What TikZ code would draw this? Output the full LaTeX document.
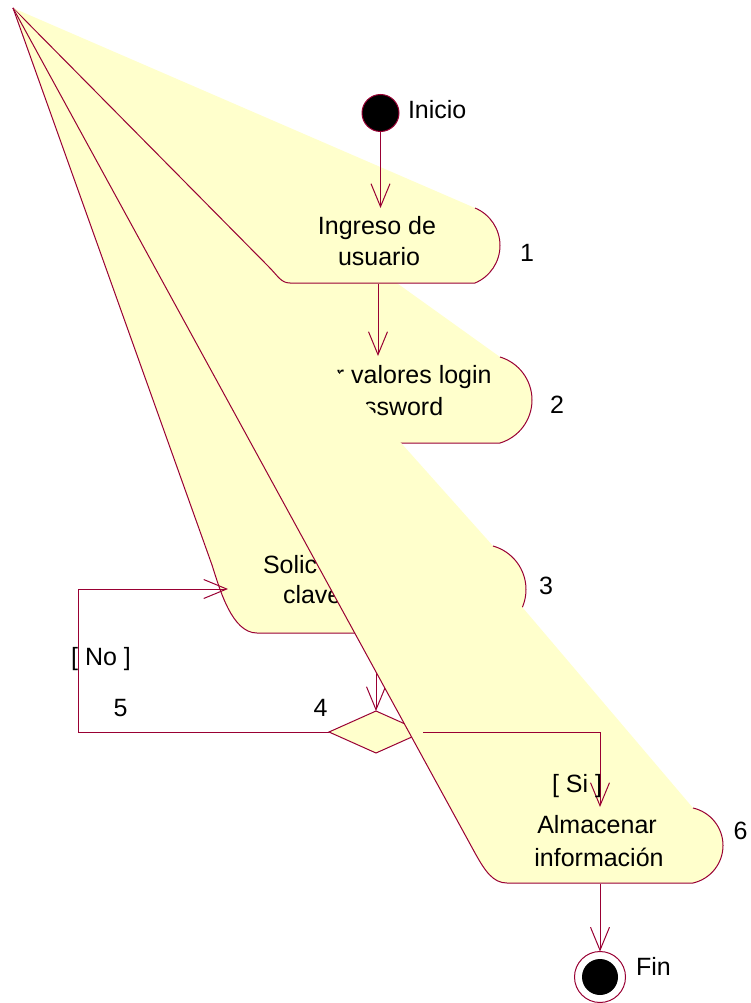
\documentclass[tikz,border=0pt]{standalone}
\usepackage{fontspec}
\setmainfont{Liberation Sans}
\usetikzlibrary{arrows.meta,shapes.geometric}
\definecolor{rline}{RGB}{153,0,51}
\definecolor{rfill}{RGB}{255,255,204}
\begin{document}
\begin{tikzpicture}[x=1pt,y=-1pt,
  every node/.style={font=\fontsize{25}{30}\selectfont, inner sep=0pt, outer sep=0pt},
  txt/.style={anchor=base},
  txtw/.style={anchor=base west},
  edge/.style={draw=rline, line width=1pt, line join=round},
  flow/.style={draw=rline, line width=1pt, -{Straight Barb[length=23pt,width=19pt]}},
]
\useasboundingbox (0,0) rectangle (751,1003);
\coordinate (apex) at (13,8);

% ---------- Box 2 : Validar valores login y password ----------
\fill[rfill] (apex) -- (500,357) .. controls (519,362.7) and (532,380.2) .. (532,400)
  .. controls (532,419.8) and (519,437.3) .. (500,443) -- (255,443)
  .. controls (244,443) and (236,436) .. (228,418) -- cycle;
\draw[edge] (500,357) .. controls (519,362.7) and (532,380.2) .. (532,400)
  .. controls (532,419.8) and (519,437.3) .. (500,443) -- (255,443)
  .. controls (244,443) and (236,436) .. (228,418) -- (apex);
\node[txt] (b2l1) at (380,383) {Validar valores login};
\node[txt] (b2l2) at (380,415) {y password};

% ---------- Box 1 : Ingreso de usuario ----------
\fill[rfill] (apex) -- (475,208) .. controls (490.1,214.3) and (500,229.1) .. (500,245.5)
  .. controls (500,261.9) and (490.1,276.7) .. (475,283) -- (290,283)
  .. controls (281,283) and (278,276) .. (268,266) -- cycle;
\draw[edge] (475,208) .. controls (490.1,214.3) and (500,229.1) .. (500,245.5)
  .. controls (500,261.9) and (490.1,276.7) .. (475,283) -- (290,283)
  .. controls (281,283) and (278,276) .. (268,266) -- (apex);
\node[txt] (b1l1) at (377,234) {Ingreso de};
\node[txt] (b1l2) at (379,265) {usuario};

% ---------- Box 3 : Solic... clave ----------
\fill[rfill] (apex) -- (493,546) .. controls (512.5,551.5) and (526,569.2) .. (526,589.5)
  .. controls (526,609.8) and (512.5,627.5) .. (493,633) -- (257,633)
  .. controls (232,633) and (220,590) .. (212,565) -- cycle;
\draw[edge] (493,546) .. controls (512.5,551.5) and (526,569.2) .. (526,589.5)
  .. controls (526,609.8) and (512.5,627.5) .. (493,633) -- (257,633)
  .. controls (232,633) and (220,590) .. (212,565) -- (apex);
\node[txtw] (b3l1) at (263,573) {Solic};
\node[txtw] (b3l2) at (283,603) {clave};

% ---------- start and transitions drawn below box 6 ----------
\node[circle, fill=black, draw=rline, line width=1pt, minimum size=37pt] (start) at (380.5,113) {};
\coordinate (b1in) at (380.5,208);
\coordinate (b1out) at (378,284);
\coordinate (b2in) at (378,356);
\coordinate (b2out) at (378,444);
\coordinate (b3in) at (378,545);
\coordinate (b3out) at (376,634);
\coordinate (b3left) at (228,589);
\coordinate (loopA) at (78,732);
\coordinate (loopB) at (78,589);

\draw[flow] (start.south) -- (b1in);
\draw[flow] (b1out) -- (b2in);
\draw[flow] (b2out) -- (b3in);

% decision
\node[diamond, draw=rline, fill=rfill, line width=1pt, minimum width=94pt, minimum height=42pt, inner sep=0pt] (dec) at (376,732) {};
\draw[flow] (b3out) -- (dec.north);
\draw[flow] (dec.west) -- (loopA) -- (loopB) -- (b3left);

% ---------- Box 6 : Almacenar informacion ----------
\fill[rfill] (apex) -- (693,808) .. controls (710.5,812) and (723,827.5) .. (723,845.5)
  .. controls (723,863.5) and (710.5,879) .. (693,883) -- (507,883)
  .. controls (493,883) and (485,871) .. (475,853) -- cycle;
\draw[edge] (693,808) .. controls (710.5,812) and (723,827.5) .. (723,845.5)
  .. controls (723,863.5) and (710.5,879) .. (693,883) -- (507,883)
  .. controls (493,883) and (485,871) .. (475,853) -- (apex);
\node[txt] (b6l1) at (597,833) {Almacenar};
\node[txt] (b6l2) at (599,866) {información};

% ---------- transitions on top of box 6 ----------
\coordinate (siA) at (600,732);
\coordinate (b6in) at (600,807);
\coordinate (b6out) at (600,884);
\draw[flow] (dec.east) -- (siA) -- (b6in);

\node[circle, draw=rline, fill=white, line width=1pt, minimum size=51pt] (fin) at (600,977) {};
\node[circle, fill=black, minimum size=36pt] (finin) at (fin.center) {};
\draw[flow] (b6out) -- (fin.north);

% ---------- labels ----------
\node[txtw] (inicio) at (408,119) {Inicio};
\node[txtw] (finlbl) at (636,975) {Fin};
\node[txt] (n1) at (527,261) {1};
\node[txt] (n2) at (557,413) {2};
\node[txt] (n3) at (546,594) {3};
\node[txt] (n4) at (320.5,716) {4};
\node[txt] (n5) at (120.5,716) {5};
\node[txt] (n6) at (740.5,839) {6};
\node[txt] (no) at (101,665) {[ No ]};
\node[txt] (si) at (577,792) {[ Si ]};
\end{tikzpicture}
\end{document}
